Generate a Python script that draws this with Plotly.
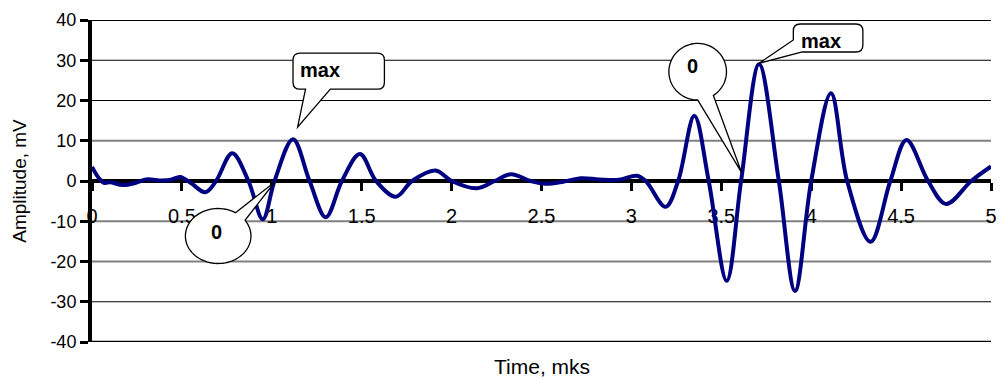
import math
import plotly.graph_objects as go

# Received pulse: time (mks) and amplitude (mV)
time_mks = [
    0.00, 0.04, 0.07, 0.10, 0.17, 0.24, 0.30, 0.39, 0.44, 0.49,
    0.55, 0.63, 0.69, 0.78, 0.87, 0.95, 1.015, 1.118, 1.21, 1.30,
    1.39, 1.49, 1.58, 1.69, 1.78, 1.91, 2.00, 2.14, 2.24, 2.33,
    2.44, 2.52, 2.62, 2.72, 2.82, 2.93, 3.03, 3.08, 3.19, 3.26,
    3.35, 3.43, 3.53, 3.61, 3.71, 3.82, 3.91, 4.00, 4.11, 4.20,
    4.33, 4.44, 4.53, 4.65, 4.75, 4.89, 5.00,
]
amplitude_mv = [
    3.5, 0.6, -0.5, -0.3, -1.0, -0.5, 0.4, 0.1, 0.3, 1.0,
    -0.5, -2.8, 0.0, 6.9, 0.0, -9.5, 0.0, 10.4, 0.0, -9.0,
    0.0, 6.7, 0.0, -3.9, 0.0, 2.6, 0.0, -1.8, 0.0, 1.7,
    0.0, -0.7, -0.2, 0.7, 0.4, 0.3, 1.3, 0.0, -6.4, 0.0,
    16.2, 0.0, -24.8, 0.0, 29.0, 0.0, -27.3, 0.0, 21.8, 0.0,
    -15.1, 0.0, 10.2, 0.0, -5.7, 0.0, 3.6,
]

x_ticks = [0, 0.5, 1, 1.5, 2, 2.5, 3, 3.5, 4, 4.5, 5]
y_ticks = [-40, -30, -20, -10, 0, 10, 20, 30, 40]

# Horizontal rules: level, colour, width
grid_levels = [40, 30, 20, 10, -10, -20, -30, -40]
grid_colors = ["#000000", "#000000", "#000000", "#808080",
               "#808080", "#808080", "#000000", "#000000"]
grid_widths = [2, 1, 1, 2, 2, 2, 1, 2.5]

W, H = 1005, 381
M = dict(l=92, r=8, t=20, b=39)
X_RANGE = [0, 5]
Y_RANGE = [-40, 40]
SX = (W - M["l"] - M["r"]) / (X_RANGE[1] - X_RANGE[0])   # px per mks
SY = (H - M["t"] - M["b"]) / (Y_RANGE[1] - Y_RANGE[0])   # px per mV

FONT = "Liberation Sans, Arial, sans-serif"


def pt(anchor, dx, dy):
    """Screen-pixel offset from an anchor point, expressed in data units."""
    return anchor[0] + dx / SX, anchor[1] - dy / SY


def fmt(p):
    return f"{p[0]:.5f},{p[1]:.5f}"


def box_callout(anchor, tip, x0, x1, y0, y1, r, tail):
    """Rounded box with a wedge tail; offsets in px relative to anchor."""
    P = lambda dx, dy: fmt(pt(anchor, dx, dy))
    if tail[0] == "bottom":
        b1, b2 = tail[1], tail[2]
        d = (f"M{P(x0 + r, y0)} L{P(x1 - r, y0)} Q{P(x1, y0)} {P(x1, y0 + r)} "
             f"L{P(x1, y1 - r)} Q{P(x1, y1)} {P(x1 - r, y1)} L{P(b2, y1)} "
             f"L{P(*tip)} L{P(b1, y1)} L{P(x0 + r, y1)} Q{P(x0, y1)} {P(x0, y1 - r)} "
             f"L{P(x0, y0 + r)} Q{P(x0, y0)} {P(x0 + r, y0)} Z")
    else:  # tail from the lower-left corner
        by, bx = tail[1], tail[2]
        d = (f"M{P(x0 + r, y0)} L{P(x1 - r, y0)} Q{P(x1, y0)} {P(x1, y0 + r)} "
             f"L{P(x1, y1 - r)} Q{P(x1, y1)} {P(x1 - r, y1)} L{P(bx, y1)} "
             f"L{P(*tip)} L{P(x0, by)} L{P(x0, y0 + r)} Q{P(x0, y0)} {P(x0 + r, y0)} Z")
    return d


def oval_callout(anchor, tip, cx, cy, rx, ry, gap_from, gap_to):
    """Ellipse with a wedge tail; the tail leaves the ellipse between two angles."""
    P = lambda dx, dy: fmt(pt(anchor, dx, dy))
    start = gap_to
    end = gap_from + 360
    n = 72
    pts = []
    for i in range(n + 1):
        a = math.radians(start + (end - start) * i / n)
        pts.append(P(cx + rx * math.cos(a), cy + ry * math.sin(a)))
    return "M" + " L".join(pts) + f" L{P(*tip)} Z"


# Points the callouts refer to
i_first_max = max(range(len(time_mks)), key=lambda i: amplitude_mv[i] if time_mks[i] < 2 else -1e9)
i_main_max = max(range(len(time_mks)), key=lambda i: amplitude_mv[i])
i_zero_1 = time_mks.index(1.015)
i_zero_2 = time_mks.index(3.61)
A1 = (time_mks[i_first_max], amplitude_mv[i_first_max])
A2 = (time_mks[i_zero_1], amplitude_mv[i_zero_1])
A3 = (time_mks[i_zero_2], amplitude_mv[i_zero_2])
A4 = (time_mks[i_main_max], amplitude_mv[i_main_max])

fig = go.Figure()
fig.add_trace(go.Scatter(
    x=time_mks, y=amplitude_mv, mode="lines",
    line=dict(color="#000080", width=4, shape="spline", smoothing=1.0),
    hoverinfo="skip", showlegend=False,
))

shapes = []
for lvl, col, wd in zip(grid_levels, grid_colors, grid_widths):
    shapes.append(dict(type="line", xref="paper", yref="y", x0=0, x1=1, y0=lvl, y1=lvl,
                       line=dict(color=col, width=wd), layer="below"))

callout_style = dict(type="path", xref="x", yref="y", fillcolor="white",
                     line=dict(color="black", width=1.3), layer="above")
shapes.append(dict(path=box_callout(A1, (4.6, -12), 0, 92, -86, -50, 7,
                                    ("bottom", 12.6, 37.6)), **callout_style))
shapes.append(dict(path=oval_callout(A2, (0.3, 1), -56.7, 55, 33, 27.5, -58, -35),
                   **callout_style))
shapes.append(dict(path=oval_callout(A3, (0.6, -8.3), -43.7, -109.3, 29, 28.3, 57, 90),
                   **callout_style))
shapes.append(dict(path=box_callout(A4, (0, -1), 34.5, 104.5, -40.3, -12.3, 7,
                                    ("corner", -24.3, 43.5)), **callout_style))

label_font = dict(family=FONT, size=20, color="black")
annotations = []
for anchor, (dx, dy), text in [
    (A1, (27.6, -69), "<b>max</b>"),
    (A2, (-58.7, 51), "<b>0</b>"),
    (A3, (-49.4, -115), "<b>0</b>"),
    (A4, (62.5, -23.6), "<b>max</b>"),
]:
    x, y = pt(anchor, dx, dy)
    annotations.append(dict(x=x, y=y, xref="x", yref="y", text=text, showarrow=False,
                            font=label_font, xanchor="center", yanchor="middle"))

annotations.append(dict(x=0.5, y=-0.075, xref="paper", yref="paper", text="Time, mks",
                        showarrow=False, font=dict(family=FONT, size=21, color="black"),
                        xanchor="center", yanchor="middle"))

fig.update_layout(
    width=W, height=H, margin=M,
    paper_bgcolor="white", plot_bgcolor="white",
    shapes=shapes, annotations=annotations,
    xaxis=dict(
        range=X_RANGE, tickvals=x_ticks, ticktext=[f"{v:g}" for v in x_ticks],
        anchor="free", position=0.5,
        showline=True, linecolor="black", linewidth=4,
        ticks="outside", ticklen=8, tickwidth=3, tickcolor="black",
        ticklabelstandoff=8,
        showgrid=False, zeroline=False, layer="below traces",
        tickfont=dict(family=FONT, size=20, color="black"),
    ),
    yaxis=dict(
        range=Y_RANGE, tickvals=y_ticks, ticktext=[f"{v:d}" for v in y_ticks],
        showline=True, linecolor="black", linewidth=4,
        ticks="outside", ticklen=8, tickwidth=3, tickcolor="black",
        showgrid=False, zeroline=False, layer="below traces",
        tickfont=dict(family=FONT, size=18, color="black"),
        title=dict(text="Amplitude, mV", font=dict(family=FONT, size=19, color="black"),
                   standoff=20),
    ),
)

fig.write_html("out.html")
